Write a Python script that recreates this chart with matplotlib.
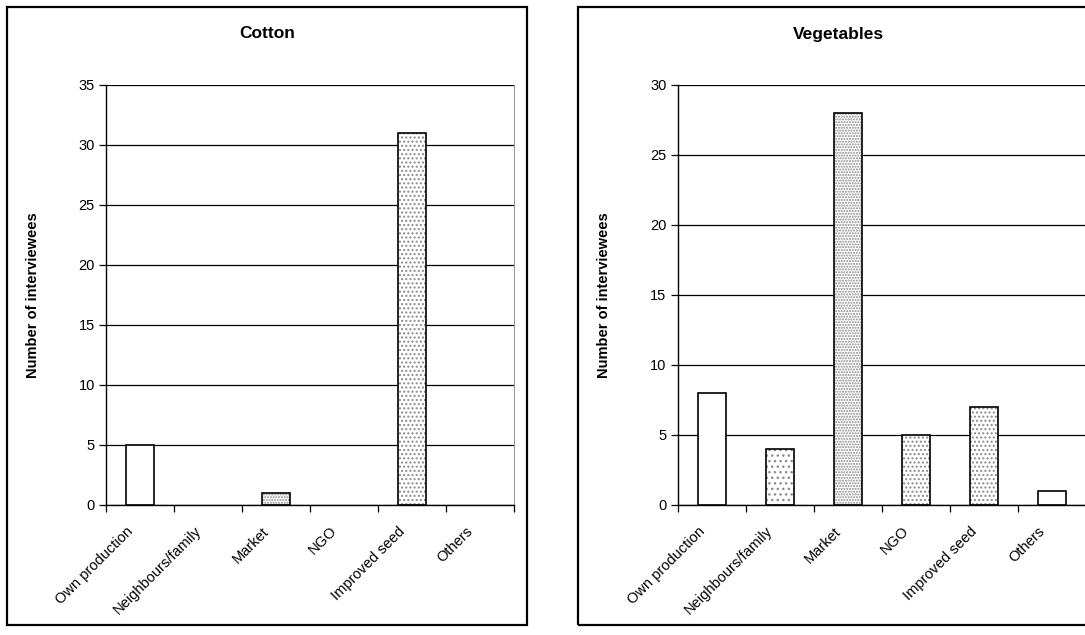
import numpy as np
import matplotlib
matplotlib.use("Agg")
import matplotlib.pyplot as plt
import matplotlib.transforms as mtransforms
from matplotlib.patches import Rectangle

plt.rcParams['font.family'] = ['Liberation Sans', 'DejaVu Sans']
plt.rcParams['hatch.linewidth'] = 1.0

# data
sources = ["Own production", "Neighbours/family", "Market", "NGO", "Improved seed", "Others"]
cotton = [5, 0, 1, 0, 31, 0]
vegetables = [8, 4, 28, 5, 7, 1]

# fill pattern per bar (None = plain white)
cotton_hatch = [None, '...', '......', '...', '....', None]
veg_hatch = [None, '...', '......', '....', '....', None]

fig = plt.figure(figsize=(10.85, 6.35), dpi=100)
W, H = 1085.0, 635.0

def panel(x0, x1, title, values, hatches, ymax, frame):
    ax = fig.add_axes([x0 / W, 1 - 505 / H, (x1 - x0) / W, 420 / H])
    x = np.arange(len(sources))
    # hatch layer in grey, outline in black on top
    for xi, v, h in zip(x, values, hatches):
        if v == 0:
            continue
        if h is not None:
            ax.bar(xi, v, width=0.41, color='white', edgecolor='#8c8c8c',
                   hatch=h, linewidth=0, zorder=2)
        else:
            ax.bar(xi, v, width=0.41, color='white', linewidth=0, zorder=2)
        ax.bar(xi, v, width=0.41, fill=False, edgecolor='black',
               linewidth=1.2, zorder=3)
    ax.set_xlim(-0.5, len(sources) - 0.5)
    ax.set_ylim(0, ymax)
    ax.set_yticks(np.arange(0, ymax + 1, 5))
    ax.yaxis.grid(True, color='black', linewidth=0.9, zorder=0)
    ax.set_axisbelow(True)
    # category labels, slanted, ending just left of the category centre
    ax.set_xticks(np.arange(-0.5, len(sources)))
    ax.set_xticklabels([])
    ax.tick_params(axis='x', length=5, width=0.9, direction='out')
    shift = mtransforms.ScaledTranslation(-0.14, -0.19, fig.dpi_scale_trans)
    for xi, name in zip(x, sources):
        ax.text(xi, 0, name, transform=ax.get_xaxis_transform() + shift,
                rotation=45, ha='right', va='top', rotation_mode='anchor',
                fontsize=10.5)
    ax.tick_params(axis='y', length=5, width=0.9, labelsize=10.5, pad=3)
    for s in ['left', 'bottom']:
        ax.spines[s].set_color('black')
        ax.spines[s].set_linewidth(1.0)
    ax.spines['top'].set_visible(False)
    ax.spines['right'].set_color('#999999')
    ax.set_ylabel("Number of interviewees", fontsize=10.5, fontweight='bold')
    fx0, fx1 = frame
    ax.yaxis.set_label_coords((fx0 + 33 - x0) / (x1 - x0), 0.5)
    fig.patches.append(Rectangle((fx0 / W, 1 - 625 / H), (fx1 - fx0) / W, 618 / H,
                                 transform=fig.transFigure, fill=False,
                                 edgecolor='black', linewidth=1.6))
    fig.text((fx0 + fx1) / 2 / W, 1 - 34 / H, title, ha='center', va='center',
             fontsize=12.5, fontweight='bold')
    return ax

panel(106, 514, "Cotton", cotton, cotton_hatch, 35, (7, 527))
panel(677.7, 1085.7, "Vegetables", vegetables, veg_hatch, 30, (578, 1098))

fig.savefig("out.png", dpi=100)
